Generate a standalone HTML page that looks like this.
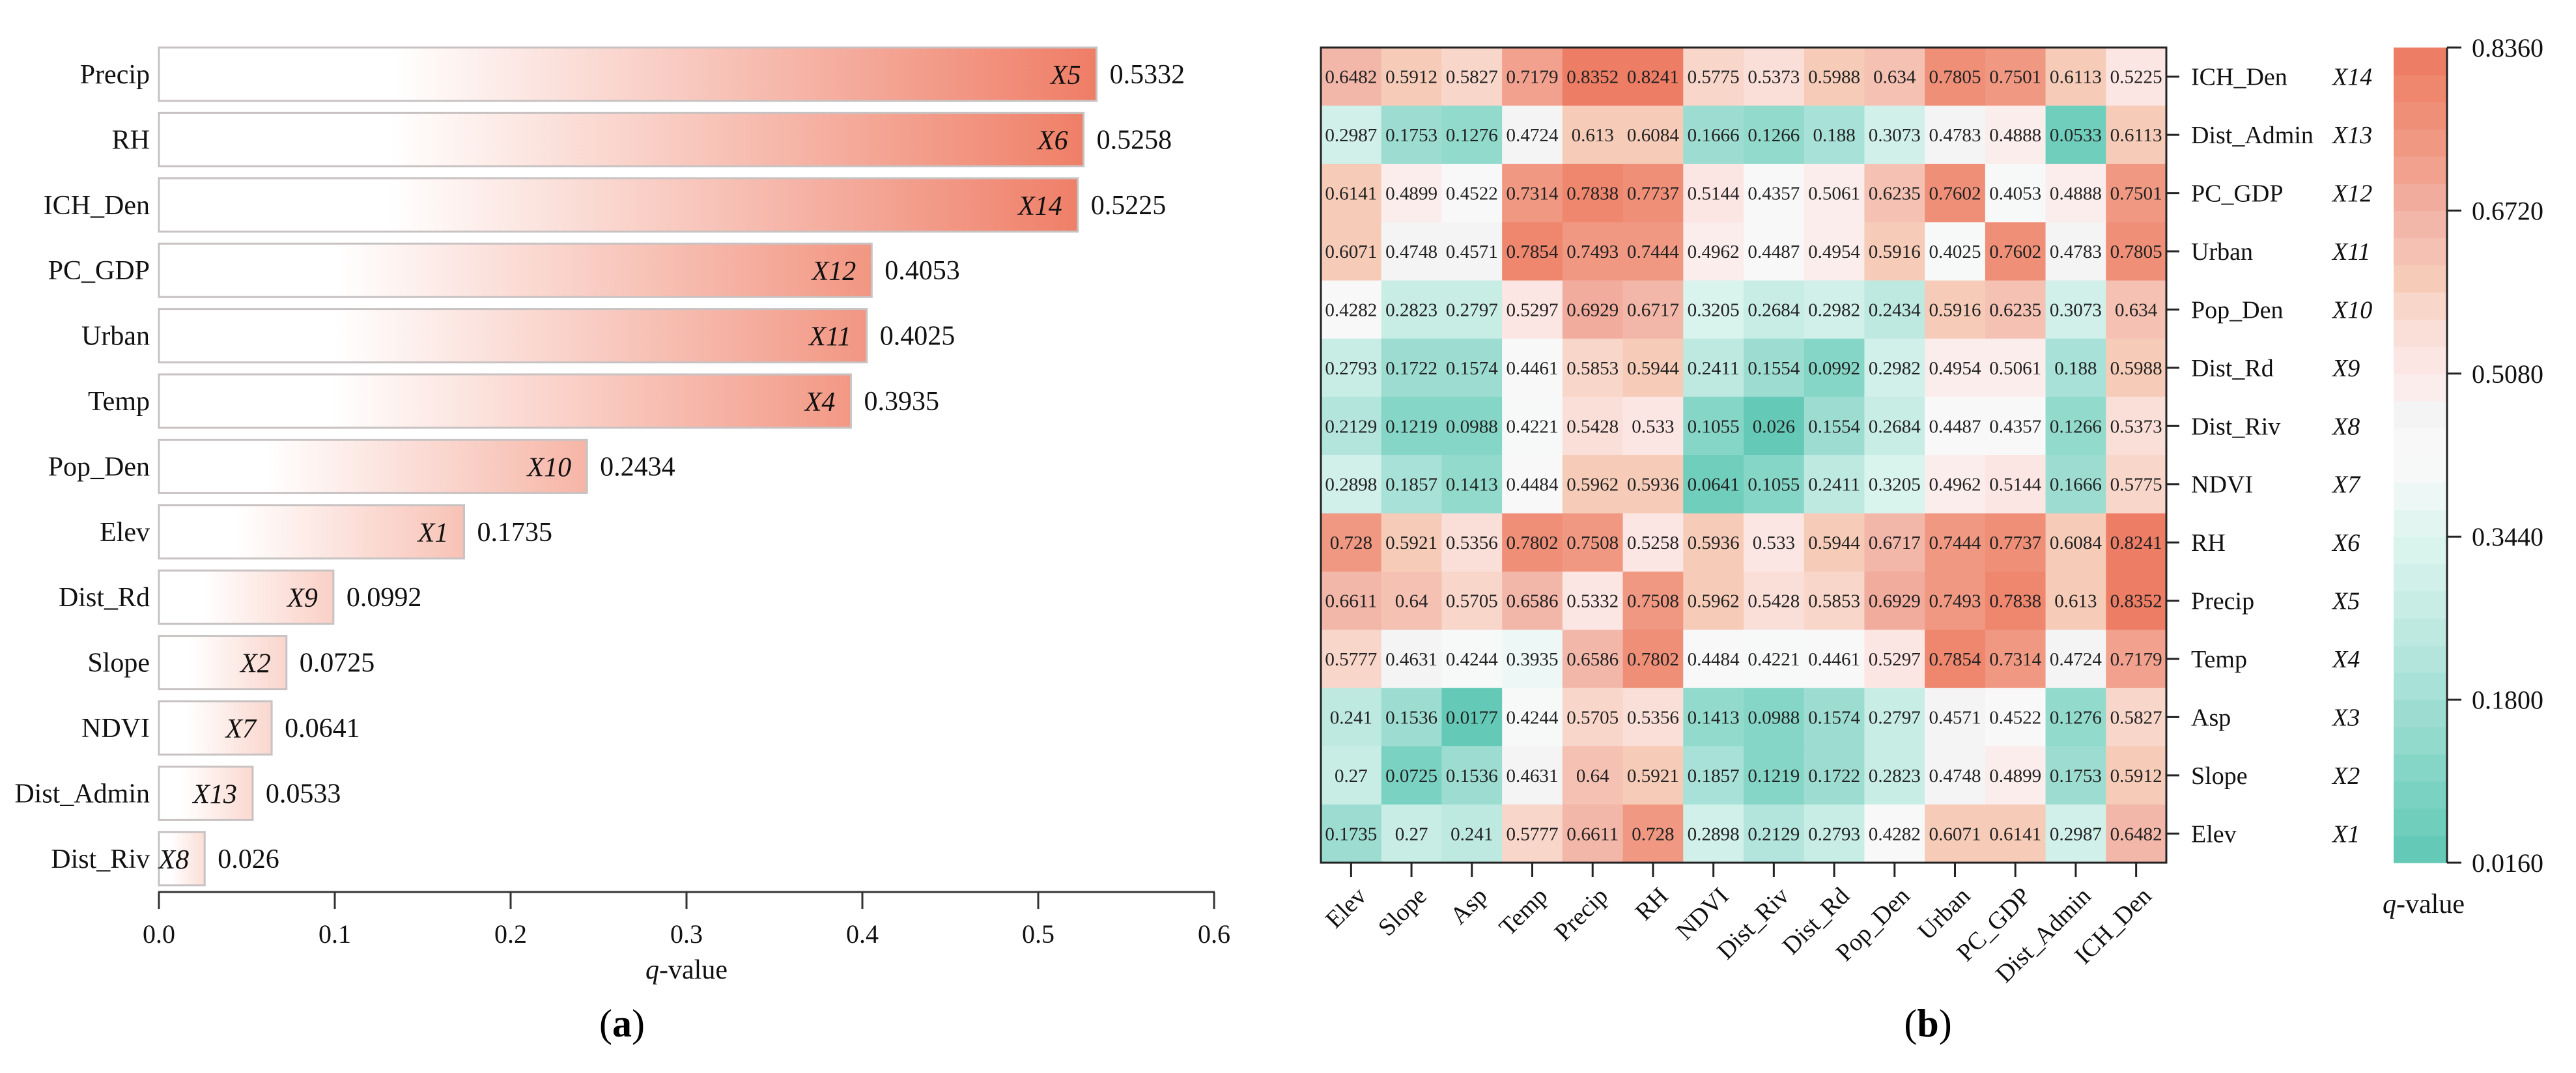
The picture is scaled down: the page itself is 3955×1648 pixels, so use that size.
<!DOCTYPE html>
<html><head><meta charset="utf-8"><style>
html,body{margin:0;padding:0;background:#fff;}
svg, svg text{font-family:"Liberation Serif","Times New Roman",serif;}
</style></head><body>
<svg id="fig" width="3955" height="1643" viewBox="0 0 3955 1643" xmlns="http://www.w3.org/2000/svg" font-family="Liberation Serif, serif">
<defs id="defs"></defs>
<g id="panelA"></g>
<g id="panelB"></g>
</svg>
<script>
// ---- Panel (a) data ----
const barCategories = ["Precip","RH","ICH_Den","PC_GDP","Urban","Temp","Pop_Den","Elev","Dist_Rd","Slope","NDVI","Dist_Admin","Dist_Riv"];
const barCodes = ["X5","X6","X14","X12","X11","X4","X10","X1","X9","X2","X7","X13","X8"];
const barValues = [0.5332,0.5258,0.5225,0.4053,0.4025,0.3935,0.2434,0.1735,0.0992,0.0725,0.0641,0.0533,0.026];
const barValueLabels = ["0.5332","0.5258","0.5225","0.4053","0.4025","0.3935","0.2434","0.1735","0.0992","0.0725","0.0641","0.0533","0.026"];
const xTicks = [0,0.1,0.2,0.3,0.4,0.5,0.6];
const xTickLabels = ["0.0","0.1","0.2","0.3","0.4","0.5","0.6"];
// ---- Panel (b) data ----
const hmCols = ["Elev","Slope","Asp","Temp","Precip","RH","NDVI","Dist_Riv","Dist_Rd","Pop_Den","Urban","PC_GDP","Dist_Admin","ICH_Den"];
const hmRows = ["ICH_Den","Dist_Admin","PC_GDP","Urban","Pop_Den","Dist_Rd","Dist_Riv","NDVI","RH","Precip","Temp","Asp","Slope","Elev"];
const hmRowCodes = ["X14","X13","X12","X11","X10","X9","X8","X7","X6","X5","X4","X3","X2","X1"];
const hmR0 = [0.6482,0.5912,0.5827,0.7179,0.8352,0.8241,0.5775,0.5373,0.5988,0.634,0.7805,0.7501,0.6113,0.5225];
const hmR1 = [0.2987,0.1753,0.1276,0.4724,0.613,0.6084,0.1666,0.1266,0.188,0.3073,0.4783,0.4888,0.0533,0.6113];
const hmR2 = [0.6141,0.4899,0.4522,0.7314,0.7838,0.7737,0.5144,0.4357,0.5061,0.6235,0.7602,0.4053,0.4888,0.7501];
const hmR3 = [0.6071,0.4748,0.4571,0.7854,0.7493,0.7444,0.4962,0.4487,0.4954,0.5916,0.4025,0.7602,0.4783,0.7805];
const hmR4 = [0.4282,0.2823,0.2797,0.5297,0.6929,0.6717,0.3205,0.2684,0.2982,0.2434,0.5916,0.6235,0.3073,0.634];
const hmR5 = [0.2793,0.1722,0.1574,0.4461,0.5853,0.5944,0.2411,0.1554,0.0992,0.2982,0.4954,0.5061,0.188,0.5988];
const hmR6 = [0.2129,0.1219,0.0988,0.4221,0.5428,0.533,0.1055,0.026,0.1554,0.2684,0.4487,0.4357,0.1266,0.5373];
const hmR7 = [0.2898,0.1857,0.1413,0.4484,0.5962,0.5936,0.0641,0.1055,0.2411,0.3205,0.4962,0.5144,0.1666,0.5775];
const hmR8 = [0.728,0.5921,0.5356,0.7802,0.7508,0.5258,0.5936,0.533,0.5944,0.6717,0.7444,0.7737,0.6084,0.8241];
const hmR9 = [0.6611,0.64,0.5705,0.6586,0.5332,0.7508,0.5962,0.5428,0.5853,0.6929,0.7493,0.7838,0.613,0.8352];
const hmR10 = [0.5777,0.4631,0.4244,0.3935,0.6586,0.7802,0.4484,0.4221,0.4461,0.5297,0.7854,0.7314,0.4724,0.7179];
const hmR11 = [0.241,0.1536,0.0177,0.4244,0.5705,0.5356,0.1413,0.0988,0.1574,0.2797,0.4571,0.4522,0.1276,0.5827];
const hmR12 = [0.27,0.0725,0.1536,0.4631,0.64,0.5921,0.1857,0.1219,0.1722,0.2823,0.4748,0.4899,0.1753,0.5912];
const hmR13 = [0.1735,0.27,0.241,0.5777,0.6611,0.728,0.2898,0.2129,0.2793,0.4282,0.6071,0.6141,0.2987,0.6482];
const hmMatrix = [hmR0,hmR1,hmR2,hmR3,hmR4,hmR5,hmR6,hmR7,hmR8,hmR9,hmR10,hmR11,hmR12,hmR13];
const cbTicks = [0.836,0.672,0.508,0.344,0.18,0.016];
const cbTickLabels = ["0.8360","0.6720","0.5080","0.3440","0.1800","0.0160"];

const NS="http://www.w3.org/2000/svg";
const FF="Liberation Serif, Times New Roman, serif";
function mk(tag, attrs, parent, text){
  const e=document.createElementNS(NS,tag);
  for(const k in attrs) if(attrs[k]!==undefined) e.setAttribute(k,attrs[k]);
  if(tag==='text') e.setAttribute('font-family',FF);
  if(text!==undefined) e.textContent=text;
  parent.appendChild(e); return e;
}
function hex(c){return [parseInt(c.slice(1,3),16),parseInt(c.slice(3,5),16),parseInt(c.slice(5,7),16)];}
function lerpC(a,b,t){const A=hex(a),B=hex(b);return "rgb("+A.map((v,i)=>Math.round(v+(B[i]-v)*t)).join(",")+")";}
const cmapStops=[[0.016,"#5ec7b3"],[0.10,"#80d5c5"],[0.18,"#a3dfd4"],[0.26,"#c3ebe3"],[0.344,"#ddf4ef"],[0.42,"#fafafa"],[0.47,"#f4f4f4"],[0.508,"#fde9e8"],[0.56,"#f9dcd5"],[0.60,"#f6cdba"],[0.64,"#f4bdb1"],[0.672,"#f3b2a4"],[0.72,"#f19e8a"],[0.78,"#ef8b73"],[0.836,"#ee7861"]];
function cmap(v){
  if(v<=cmapStops[0][0]) return cmapStops[0][1];
  for(let i=1;i<cmapStops.length;i++){
    if(v<=cmapStops[i][0]){const a=cmapStops[i-1],b=cmapStops[i];return lerpC(a[1],b[1],(v-a[0])/(b[0]-a[0]));}
  }
  return cmapStops[cmapStops.length-1][1];
}
const NB=30, vMin=0.016, vMax=0.836;
function bandColor(v){let k=Math.floor((v-vMin)/(vMax-vMin)*NB);k=Math.max(0,Math.min(NB-1,k));return cmap(vMin+(k+0.5)*(vMax-vMin)/NB);}

// ---------- Panel A ----------
const A=document.getElementById('panelA');
const defs=document.getElementById('defs');
const ax0=244, axPer=2700, rowY0=114, rowPitch=100.4, barH=82, axisY=1370;
const xs=v=>ax0+v*axPer;
const ys=i=>rowY0+i*rowPitch;
barValues.forEach((v,i)=>{
  const g=mk('linearGradient',{id:'bg'+i,x1:'0',y1:'0',x2:'1',y2:'0'},defs);
  const end=lerpC("#fce3dc","#ef7c64",Math.min(1,v/0.54));
  mk('stop',{offset:'0','stop-color':'#ffffff'},g);
  mk('stop',{offset:'0.25','stop-color':'#ffffff'},g);
  mk('stop',{offset:'1','stop-color':end},g);
  const cy=ys(i);
  const r=mk('rect',{x:ax0,y:cy-barH/2,width:xs(v)-ax0,height:barH,fill:'url(#bg'+i+')',stroke:'#c8c2c2','stroke-width':3},A);
  
  
  const cl=mk('text',{x:ax0-14,y:cy+14,'text-anchor':'end','font-size':42,fill:'#111'},A,barCategories[i]);
  
  
  const code=mk('text',{x:xs(v)-24,y:cy+15,'text-anchor':'end','font-size':42,'font-style':'italic',fill:'#111'},A,barCodes[i]);
  
  
  const vl=mk('text',{x:xs(v)+20,y:cy+14,'font-size':42,fill:'#111'},A,barValueLabels[i]);
  
  
});
const axl=mk('line',{x1:ax0-1,y1:axisY,x2:xs(0.6)+1,y2:axisY,stroke:'#333','stroke-width':3},A);


xTicks.forEach((t,i)=>{
  const tl=mk('line',{x1:xs(t),y1:axisY,x2:xs(t),y2:axisY+26,stroke:'#333','stroke-width':3},A);
  
  
  const tx=mk('text',{x:xs(t),y:axisY+78,'text-anchor':'middle','font-size':40,fill:'#111'},A,xTickLabels[i]);
  
  
});
const xt=mk('text',{x:xs(0.3),y:1503,'text-anchor':'middle','font-size':42,fill:'#111'},A);


mk('tspan',{'font-style':'italic'},xt,'q');
mk('tspan',{},xt,'-value');
const pa=mk('text',{x:955,y:1592,'text-anchor':'middle','font-size':60,fill:'#000'},A);


mk('tspan',{},pa,'(');mk('tspan',{'font-weight':'bold'},pa,'a');mk('tspan',{},pa,')');

// ---------- Panel B ----------
const B=document.getElementById('panelB');
const hx0=2028, hx1=3326, hy0=73, hy1=1325;
const cw=(hx1-hx0)/hmCols.length, ch=(hy1-hy0)/hmRows.length;
const cx=j=>hx0+j*cw, cy=i=>hy0+i*ch;
hmMatrix.forEach((row,i)=>{
  row.forEach((v,j)=>{
    const c=mk('rect',{x:cx(j),y:cy(i),width:cw+0.6,height:ch+0.6,fill:bandColor(v)},B);
    
    
  });
});
hmMatrix.forEach((row,i)=>{
  row.forEach((v,j)=>{
    const s=String(v);
    const t=mk('text',{x:cx(j)+cw/2,y:cy(i)+ch/2+10,'text-anchor':'middle','font-size':29,fill:'#222'},B,s);
    if(s.length>5){t.setAttribute('textLength',80);t.setAttribute('lengthAdjust','spacingAndGlyphs');}
    
    
  });
});
const fr=mk('rect',{x:hx0,y:hy0,width:hx1-hx0,height:hy1-hy0,fill:'none',stroke:'#222','stroke-width':3},B);


hmRows.forEach((r,i)=>{
  const y=cy(i)+ch/2;
  const tk=mk('line',{x1:hx1,y1:y,x2:hx1+20,y2:y,stroke:'#222','stroke-width':3},B);
  
  
  const l=mk('text',{x:3364,y:y+13,'font-size':38,fill:'#111'},B,r);
  
  
  const c=mk('text',{x:3581,y:y+13,'font-size':38,'font-style':'italic',fill:'#111'},B,hmRowCodes[i]);
  
  
});
hmCols.forEach((c,j)=>{
  const x=cx(j)+cw/2;
  const tk=mk('line',{x1:x,y1:hy1,x2:x,y2:hy1+22,stroke:'#222','stroke-width':3},B);
  
  
  const l=mk('text',{x:0,y:0,'text-anchor':'end','font-size':38,fill:'#111',dy:'0.35em',transform:'translate('+(x+16)+','+(hy1+44)+') rotate(-45)'},B,c);
  
  
});
// colorbar
const cbx0=3675, cbx1=3757;
const cbY=v=>hy1-(v-vMin)/(vMax-vMin)*(hy1-hy0);
for(let k=0;k<NB;k++){
  const lo=vMin+k*(vMax-vMin)/NB, hi=vMin+(k+1)*(vMax-vMin)/NB;
  const b=mk('rect',{x:cbx0,y:cbY(hi),width:cbx1-cbx0,height:cbY(lo)-cbY(hi)+0.6,fill:cmap((lo+hi)/2)},B);
  
  
}
const cbl=mk('line',{x1:cbx1,y1:hy0,x2:cbx1,y2:hy1,stroke:'#222','stroke-width':3},B);


cbTicks.forEach((t,i)=>{
  const y=cbY(t);
  const tk=mk('line',{x1:cbx1,y1:y,x2:cbx1+22,y2:y,stroke:'#222','stroke-width':3},B);
  
  
  const l=mk('text',{x:3795,y:y+14,'font-size':40,fill:'#111'},B,cbTickLabels[i]);
  
  
});
const cbt=mk('text',{x:3721,y:1402,'text-anchor':'middle','font-size':42,fill:'#111'},B);


mk('tspan',{'font-style':'italic'},cbt,'q');
mk('tspan',{},cbt,'-value');
const pb=mk('text',{x:2960,y:1592,'text-anchor':'middle','font-size':60,fill:'#000'},B);


mk('tspan',{},pb,'(');mk('tspan',{'font-weight':'bold'},pb,'b');mk('tspan',{},pb,')');
</script>
</body></html>
